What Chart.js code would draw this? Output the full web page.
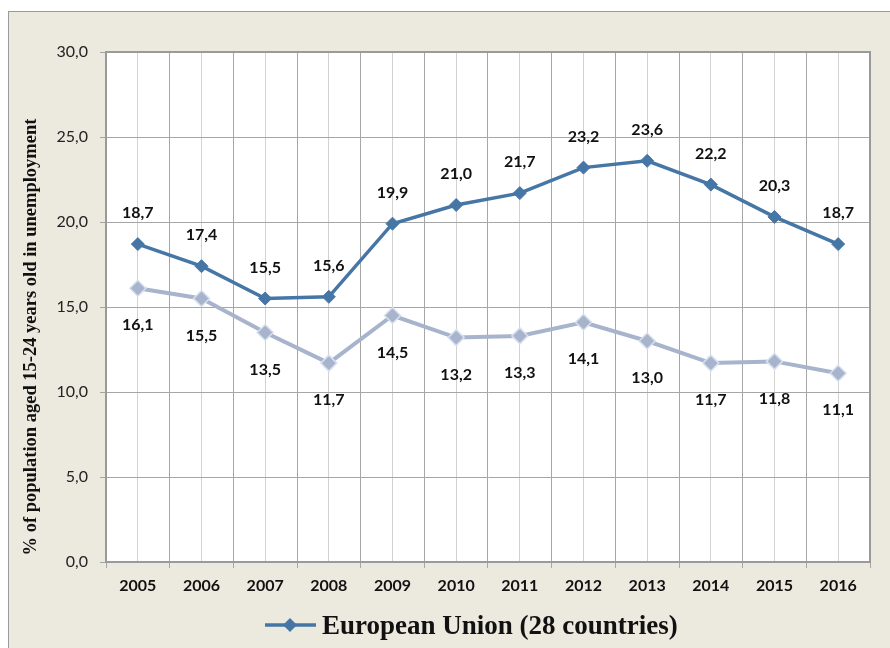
<!DOCTYPE html>
<html>
<head>
<meta charset="utf-8">
<script src="https://cdn.jsdelivr.net/npm/chart.js@4.4.1/dist/chart.umd.min.js"></script>
<style>
html, body { margin: 0; padding: 0; background: #fff; overflow: hidden; }
#frame { position: absolute; left: 8px; top: 11px; width: 890px; height: 648px; background: #ECE9DF;
  border-left: 1px solid #9a9a9a; border-top: 1px solid #9a9a9a; box-sizing: border-box; }
#wrap { position: absolute; left: 0; top: 0; width: 890px; height: 648px; }
</style>
</head>
<body>
<div id="frame"></div>
<div id="wrap"><canvas id="myChart"></canvas></div>
<script>
const years = ['2005','2006','2007','2008','2009','2010','2011','2012','2013','2014','2015','2016'];
const euValues = [18.7, 17.4, 15.5, 15.6, 19.9, 21.0, 21.7, 23.2, 23.6, 22.2, 20.3, 18.7];
const otherValues = [16.1, 15.5, 13.5, 11.7, 14.5, 13.2, 13.3, 14.1, 13.0, 11.7, 11.8, 11.1];
const yTickLabels = ['0,0','5,0','10,0','15,0','20,0','25,0','30,0'];
const yTitle = '% of population aged 15-24 years old in unemployment';
const legendText = 'European Union (28 countries)';

const darkBlue = '#4676A6';
const lightBlue = '#A8B4CC';

// white plot area + border
const plotArea = {
  id: 'plotArea',
  beforeDraw(chart) {
    const {ctx, chartArea: a} = chart;
    ctx.save();
    ctx.fillStyle = '#fff';
    ctx.fillRect(a.left, a.top, a.right - a.left, a.bottom - a.top);
    ctx.restore();
  },
  beforeDatasetsDraw(chart) {
    const {ctx, chartArea: a} = chart;
    ctx.save();
    ctx.strokeStyle = '#9a9a9a';
    ctx.lineWidth = 2;
    ctx.strokeRect(a.left, a.top, a.right - a.left, a.bottom - a.top);
    ctx.restore();
  }
};

// value labels: first series above, second below
const valueLabels = {
  id: 'valueLabels',
  afterDatasetsDraw(chart) {
    const ctx = chart.ctx;
    ctx.save();
    ctx.font = 'bold 16px Lato';
    ctx.fillStyle = '#111';
    ctx.textAlign = 'center';
    ctx.textBaseline = 'middle';
    chart.data.datasets.forEach((ds, i) => {
      const meta = chart.getDatasetMeta(i);
      const off = i === 0 ? -31 : 37;
      meta.data.forEach((pt, j) => {
        ctx.fillText(ds.data[j].toFixed(1).replace('.', ','), pt.x, pt.y + off);
      });
    });
    ctx.restore();
  }
};

// axis title + legend
const extras = {
  id: 'extras',
  afterDraw(chart) {
    const ctx = chart.ctx;
    ctx.save();
    ctx.fillStyle = '#111';
    ctx.font = 'bold 18.5px "Liberation Serif"';
    ctx.textAlign = 'center';
    ctx.textBaseline = 'middle';
    ctx.translate(31, 337);
    ctx.rotate(-Math.PI / 2);
    ctx.fillText(yTitle, 0, 0);
    ctx.restore();

    ctx.save();
    const y = 625;
    ctx.strokeStyle = darkBlue;
    ctx.lineWidth = 3.5;
    ctx.beginPath();
    ctx.moveTo(265, y);
    ctx.lineTo(316, y);
    ctx.stroke();
    ctx.fillStyle = darkBlue;
    ctx.beginPath();
    ctx.moveTo(290, y - 7); ctx.lineTo(297, y); ctx.lineTo(290, y + 7); ctx.lineTo(283, y);
    ctx.closePath();
    ctx.fill();
    ctx.fillStyle = '#111';
    ctx.font = 'bold 27px "Liberation Serif"';
    ctx.textAlign = 'left';
    ctx.textBaseline = 'middle';
    ctx.fillText(legendText, 322, y + 2);
    ctx.restore();
  }
};

const ctx = document.getElementById('myChart');
const myChart = new Chart(ctx, {
  type: 'line',
  data: {
    labels: years,
    datasets: [{
      label: legendText,
      data: euValues,
      borderColor: darkBlue,
      backgroundColor: darkBlue,
      borderWidth: 3.5,
      pointStyle: 'rectRot',
      pointRadius: 6.5,
      pointBorderWidth: 1,
      pointBorderColor: darkBlue,
      pointBackgroundColor: darkBlue,
      tension: 0
    }, {
      label: 'other',
      data: otherValues,
      borderColor: lightBlue,
      backgroundColor: lightBlue,
      borderWidth: 4,
      pointStyle: 'rectRot',
      pointRadius: 8,
      pointBorderWidth: 1.5,
      pointBorderColor: '#D6E0F0',
      pointBackgroundColor: lightBlue,
      tension: 0
    }]
  },
  options: {
    responsive: true,
    maintainAspectRatio: false,
    animation: false,
    layout: { padding: { left: 8, top: 52, right: 20, bottom: 0 } },
    plugins: { legend: { display: false }, tooltip: { enabled: false } },
    scales: {
      x: {
        type: 'category',
        offset: true,
        grid: { offset: true, color: '#A6A6A6', lineWidth: 1, tickLength: 6 },
        border: { color: '#8c8c8c', width: 2 },
        ticks: { color: '#111', font: { family: 'Lato', size: 16, weight: 'bold' }, padding: 8, maxRotation: 0 },
        afterFit: (s) => { s.height = 86; }
      },
      x2: {
        type: 'category',
        position: 'bottom',
        offset: true,
        grid: { offset: false, color: '#D2D2D2', lineWidth: 1, drawTicks: false },
        border: { display: false },
        ticks: { display: false },
        afterFit: (s) => { s.height = 0; }
      },
      y: {
        min: 0,
        max: 30,
        ticks: {
          stepSize: 5,
          color: '#222',
          font: { family: 'Lato', size: 16 },
          padding: 12,
          callback: (v, i) => yTickLabels[i]
        },
        grid: { color: '#A6A6A6', lineWidth: 1, tickLength: 6 },
        border: { color: '#8c8c8c', width: 2 },
        afterFit: (s) => { s.width = 98; }
      }
    }
  },
  plugins: [plotArea, valueLabels, extras]
});
</script>
</body>
</html>
